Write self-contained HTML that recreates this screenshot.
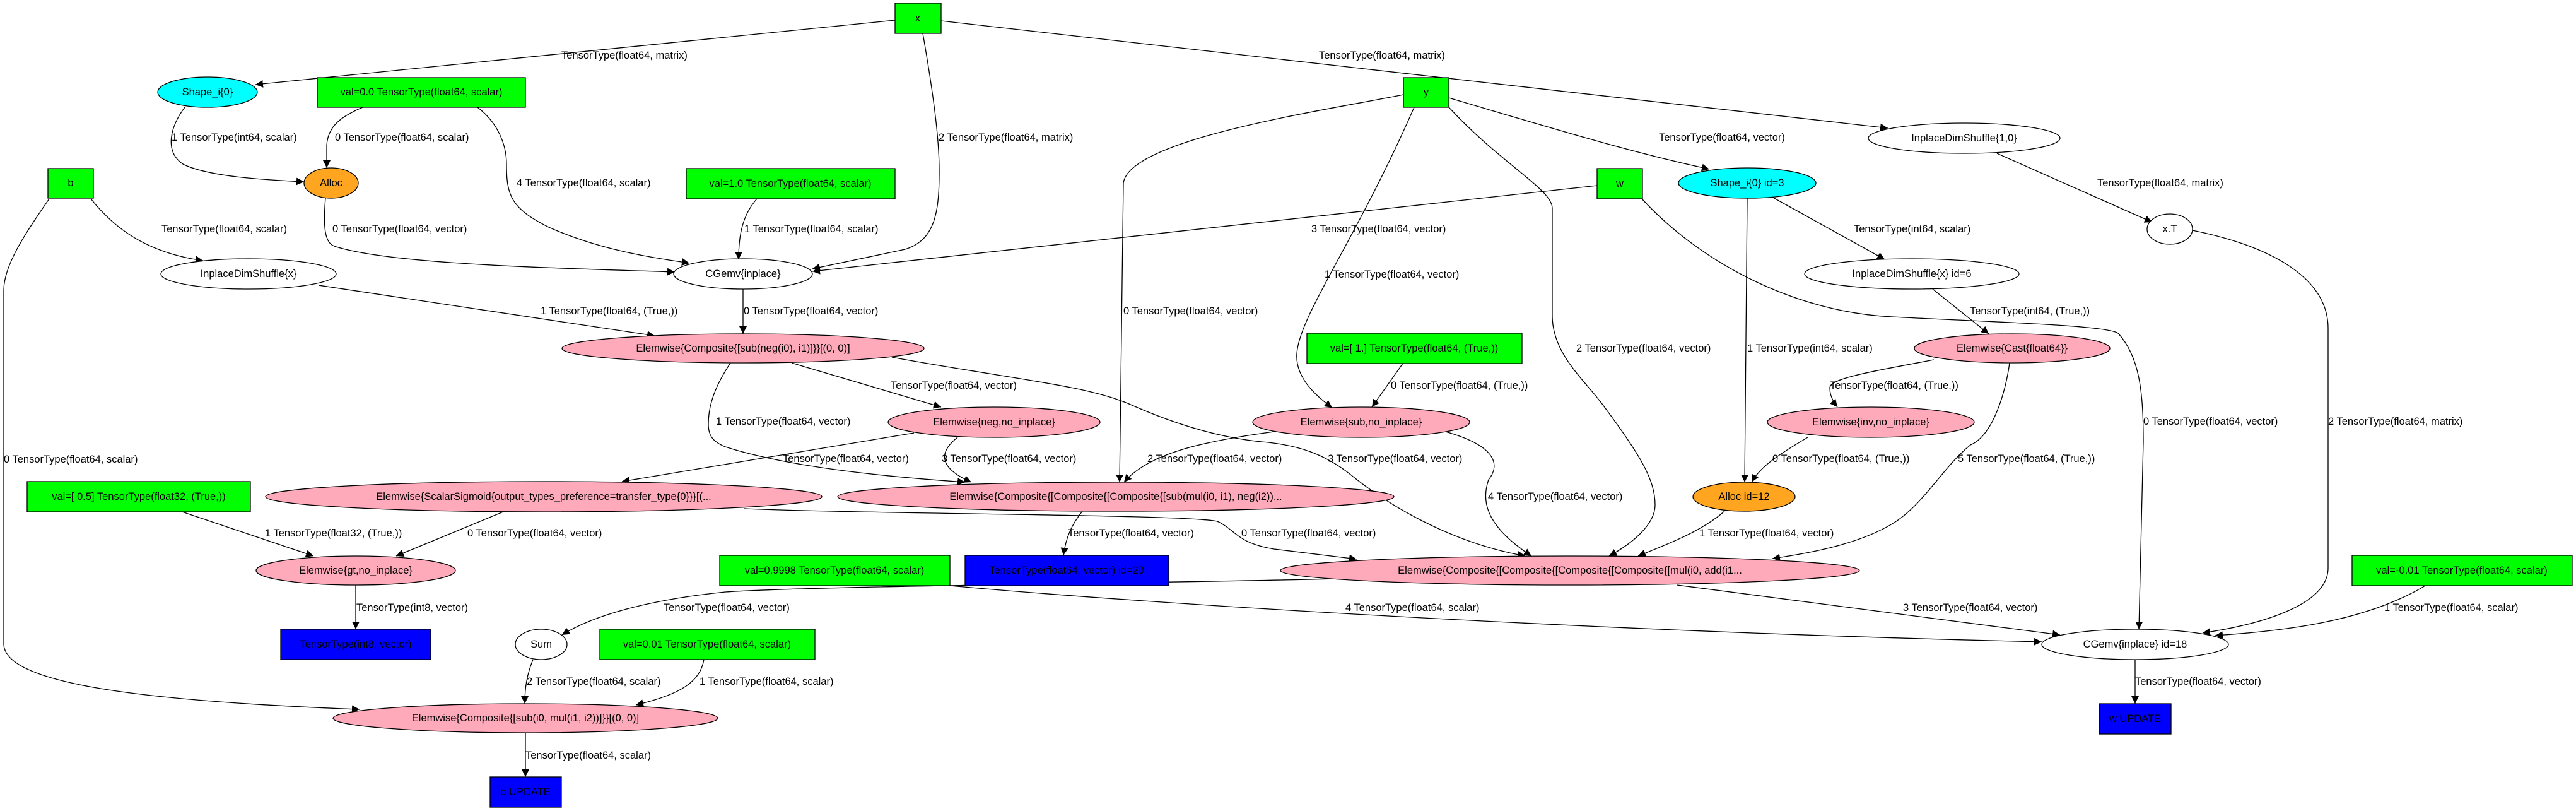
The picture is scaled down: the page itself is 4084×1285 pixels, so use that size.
<!DOCTYPE html>
<html><head><meta charset="utf-8"><style>
html,body{margin:0;padding:0;background:#fff;}
svg{display:block;}
text{font-family:"Liberation Sans",sans-serif;font-size:16.5px;fill:#000;}
.e{fill:none;stroke:#000;stroke-width:1.3;}
.n{stroke:#000;stroke-width:1.3;}
</style></head><body>
<svg width="4084" height="1285" viewBox="0 0 4084 1285" xmlns="http://www.w3.org/2000/svg">
<defs><marker id="a" viewBox="0 0 10 10" refX="10" refY="5" markerWidth="12" markerHeight="12" markerUnits="userSpaceOnUse" orient="auto"><path d="M0,0 L10,5 L0,10 z" fill="#000"/></marker></defs>

<g class="e" marker-end="url(#a)">
<path d="M1419,32 L405,134"/>
<path d="M1463,53 C1480,150 1489,220 1489,270 C1489,330 1485,380 1435,395 L1288,426"/>
<path d="M1492,33 L2993,203"/>
<path d="M293,170 C270,200 260,240 290,260 C330,280 420,285 482,288"/>
<path d="M575,170 C540,185 520,200 518,230 L518,266"/>
<path d="M757,170 C790,195 803,230 803,260 C803,310 810,330 870,360 C960,400 1050,410 1093,417"/>
<path d="M516,314 C512,360 515,385 530,390 C620,420 900,425 1070,431"/>
<path d="M1200,315 C1178,340 1171,370 1171,411"/>
<path d="M2532,294 L1288,430"/>
<path d="M144,315 C180,360 230,400 322,413"/>
<path d="M78,315 C40,370 6,420 6,460 L6,1020 C6,1080 200,1110 570,1124"/>
<path d="M505,452 L1038,532"/>
<path d="M1178,458 L1178,529"/>
<path d="M2242,170 C2150,380 2060,500 2056,560 C2053,600 2090,630 2112,646"/>
<path d="M2225,150 C2100,175 1790,220 1781,290 L1775,764"/>
<path d="M2297,170 C2380,260 2461,300 2461,330 L2461,500 C2461,560 2510,600 2540,640 C2600,720 2624,760 2624,800 C2624,830 2590,860 2551,881"/>
<path d="M2297,155 C2450,200 2580,240 2710,268"/>
<path d="M2770,314 L2766,764"/>
<path d="M2811,313 L2988,411"/>
<path d="M3064,458 L3153,529"/>
<path d="M2603,315 C2700,420 2850,495 3000,502 C3150,510 3340,515 3358,528 C3392,565 3398,620 3398,700 L3391,997"/>
<path d="M3166,243 L3412,352"/>
<path d="M3476,365 C3600,390 3691,440 3691,520 L3691,900 C3691,960 3580,990 3492,1003"/>
<path d="M1255,575 L1492,645"/>
<path d="M1158,575 C1135,610 1123,640 1123,672 C1123,690 1130,700 1150,708 C1250,740 1400,755 1530,764"/>
<path d="M1414,566 C1600,600 1720,610 1790,640 C1880,680 1950,695 2000,700 C2060,705 2100,720 2140,751 C2200,800 2300,860 2418,881"/>
<path d="M1449,686 L986,763"/>
<path d="M1518,693 C1490,715 1485,740 1540,764"/>
<path d="M2020,684 C1900,700 1820,720 1782,764"/>
<path d="M2288,683 C2370,705 2380,735 2360,760 C2350,790 2350,830 2428,881"/>
<path d="M2224,576 L2175,645"/>
<path d="M3066,570 C2960,590 2900,600 2901,615 C2901,625 2905,635 2913,645"/>
<path d="M3186,575 C3180,620 3160,690 3124,705 C3080,740 3050,800 3000,830 C2950,860 2880,875 2810,885"/>
<path d="M2866,693 C2820,720 2790,740 2777,764"/>
<path d="M2734,810 C2700,840 2650,860 2597,881"/>
<path d="M1716,810 C1700,830 1690,850 1686,880"/>
<path d="M1180,806 C1400,815 1880,815 1930,826 C1960,840 1960,860 2020,870 L2151,886"/>
<path d="M800,810 L628,881"/>
<path d="M289,811 L497,881"/>
<path d="M564,927 L564,997"/>
<path d="M2120,917 C1800,925 1300,928 1150,938 C1030,950 940,975 891,1006"/>
<path d="M2659,927 L3266,1006"/>
<path d="M1506,928 C1800,955 2500,1000 3237,1017"/>
<path d="M3845,928 C3750,985 3620,1000 3512,1007"/>
<path d="M3385,1045 L3385,1115"/>
<path d="M845,1045 C835,1070 832,1090 832,1115"/>
<path d="M1116,1045 C1110,1080 1080,1100 1008,1117"/>
<path d="M833,1162 L833,1231"/>
</g>

<g class="n">
<rect x="1419" y="5" width="73" height="48" fill="#00ff00"/>
<ellipse cx="329" cy="146" rx="79" ry="24" fill="#00ffff"/>
<rect x="503" y="123" width="330" height="47" fill="#00ff00"/>
<ellipse cx="525" cy="290" rx="43" ry="24" fill="#ffa520"/>
<rect x="76" y="267" width="72" height="47" fill="#00ff00"/>
<ellipse cx="394" cy="434" rx="139" ry="24" fill="#fff"/>
<ellipse cx="1178" cy="552" rx="287" ry="23" fill="#ffaabb"/>
<rect x="1088" y="267" width="331" height="48" fill="#00ff00"/>
<ellipse cx="1178" cy="434" rx="110" ry="24" fill="#fff"/>
<rect x="2225" y="123" width="72" height="47" fill="#00ff00"/>
<rect x="2532" y="267" width="72" height="48" fill="#00ff00"/>
<ellipse cx="2770" cy="290" rx="109" ry="24" fill="#00ffff"/>
<ellipse cx="3114" cy="219" rx="152" ry="24" fill="#fff"/>
<ellipse cx="3031" cy="434" rx="170" ry="24" fill="#fff"/>
<rect x="2072" y="528" width="341" height="48" fill="#00ff00"/>
<ellipse cx="3440" cy="363" rx="36" ry="24" fill="#fff"/>
<ellipse cx="3190" cy="552" rx="155" ry="23" fill="#ffaabb"/>
<rect x="43" y="763" width="354" height="48" fill="#00ff00"/>
<ellipse cx="862" cy="787" rx="441" ry="24" fill="#ffaabb"/>
<ellipse cx="564" cy="904" rx="158" ry="23" fill="#ffaabb"/>
<rect x="445" y="997" width="238" height="48" fill="#0000ff"/>
<ellipse cx="858" cy="1021" rx="41" ry="24" fill="#fff"/>
<rect x="951" y="997" width="341" height="48" fill="#00ff00"/>
<ellipse cx="833" cy="1138" rx="305" ry="23" fill="#ffaabb"/>
<rect x="777" y="1231" width="113" height="48" fill="#0000ff"/>
<ellipse cx="1576" cy="669" rx="168" ry="24" fill="#ffaabb"/>
<ellipse cx="1769" cy="787" rx="441" ry="23" fill="#ffaabb"/>
<rect x="1141" y="880" width="365" height="48" fill="#00ff00"/>
<rect x="1530" y="880" width="323" height="48" fill="#0000ff"/>
<ellipse cx="2489" cy="904" rx="459" ry="23" fill="#ffaabb"/>
<ellipse cx="2158" cy="669" rx="172" ry="24" fill="#ffaabb"/>
<ellipse cx="2966" cy="669" rx="164" ry="24" fill="#ffaabb"/>
<ellipse cx="2765" cy="787" rx="81" ry="23" fill="#ffa520"/>
<rect x="3729" y="880" width="349" height="48" fill="#00ff00"/>
<ellipse cx="3385" cy="1021" rx="148" ry="24" fill="#fff"/>
<rect x="3328" y="1115" width="114" height="48" fill="#0000ff"/>
</g>

<g text-anchor="middle" dominant-baseline="central">
<text x="1455" y="29">x</text>
<text x="329" y="146">Shape_i{0}</text>
<text x="668" y="146">val=0.0 TensorType(float64, scalar)</text>
<text x="525" y="290">Alloc</text>
<text x="112" y="290">b</text>
<text x="394" y="434">InplaceDimShuffle{x}</text>
<text x="1178" y="552">Elemwise{Composite{[sub(neg(i0), i1)]}}[(0, 0)]</text>
<text x="1253" y="291">val=1.0 TensorType(float64, scalar)</text>
<text x="1178" y="434">CGemv{inplace}</text>
<text x="2261" y="146">y</text>
<text x="2568" y="291">w</text>
<text x="2770" y="290">Shape_i{0} id=3</text>
<text x="3114" y="219">InplaceDimShuffle{1,0}</text>
<text x="3031" y="434">InplaceDimShuffle{x} id=6</text>
<text x="2242" y="552">val=[ 1.] TensorType(float64, (True,))</text>
<text x="3440" y="363">x.T</text>
<text x="3190" y="552">Elemwise{Cast{float64}}</text>
<text x="220" y="787">val=[ 0.5] TensorType(float32, (True,))</text>
<text x="862" y="787">Elemwise{ScalarSigmoid{output_types_preference=transfer_type{0}}}[(...</text>
<text x="564" y="904">Elemwise{gt,no_inplace}</text>
<text x="564" y="1021">TensorType(int8, vector)</text>
<text x="858" y="1021">Sum</text>
<text x="1121" y="1021">val=0.01 TensorType(float64, scalar)</text>
<text x="833" y="1138">Elemwise{Composite{[sub(i0, mul(i1, i2))]}}[(0, 0)]</text>
<text x="833" y="1255">b UPDATE</text>
<text x="1576" y="669">Elemwise{neg,no_inplace}</text>
<text x="1769" y="787">Elemwise{Composite{[Composite{[Composite{[sub(mul(i0, i1), neg(i2))...</text>
<text x="1323" y="904">val=0.9998 TensorType(float64, scalar)</text>
<text x="1691" y="904">TensorType(float64, vector) id=20</text>
<text x="2489" y="904">Elemwise{Composite{[Composite{[Composite{[Composite{[mul(i0, add(i1...</text>
<text x="2158" y="669">Elemwise{sub,no_inplace}</text>
<text x="2966" y="669">Elemwise{inv,no_inplace}</text>
<text x="2765" y="787">Alloc id=12</text>
<text x="3903" y="904">val=-0.01 TensorType(float64, scalar)</text>
<text x="3385" y="1021">CGemv{inplace} id=18</text>
<text x="3385" y="1139">w UPDATE</text>
</g>

<g dominant-baseline="central">
<text x="890" y="88">TensorType(float64, matrix)</text>
<text x="2091" y="88">TensorType(float64, matrix)</text>
<text x="272" y="218">1 TensorType(int64, scalar)</text>
<text x="531" y="218">0 TensorType(float64, scalar)</text>
<text x="1488" y="218">2 TensorType(float64, matrix)</text>
<text x="2630" y="218">TensorType(float64, vector)</text>
<text x="819" y="290">4 TensorType(float64, scalar)</text>
<text x="3325" y="290">TensorType(float64, matrix)</text>
<text x="256" y="363">TensorType(float64, scalar)</text>
<text x="527" y="363">0 TensorType(float64, vector)</text>
<text x="1180" y="363">1 TensorType(float64, scalar)</text>
<text x="2079" y="363">3 TensorType(float64, vector)</text>
<text x="2939" y="363">TensorType(int64, scalar)</text>
<text x="2100" y="435">1 TensorType(float64, vector)</text>
<text x="857" y="493">1 TensorType(float64, (True,))</text>
<text x="1179" y="493">0 TensorType(float64, vector)</text>
<text x="1781" y="493">0 TensorType(float64, vector)</text>
<text x="3123" y="493">TensorType(int64, (True,))</text>
<text x="2499" y="552">2 TensorType(float64, vector)</text>
<text x="2770" y="552">1 TensorType(int64, scalar)</text>
<text x="1412" y="611">TensorType(float64, vector)</text>
<text x="2205" y="611">0 TensorType(float64, (True,))</text>
<text x="2901" y="611">TensorType(float64, (True,))</text>
<text x="1135" y="668">1 TensorType(float64, vector)</text>
<text x="3398" y="668">0 TensorType(float64, vector)</text>
<text x="3691" y="668">2 TensorType(float64, matrix)</text>
<text x="6" y="728">0 TensorType(float64, scalar)</text>
<text x="1241" y="727">TensorType(float64, vector)</text>
<text x="1493" y="727">3 TensorType(float64, vector)</text>
<text x="1819" y="727">2 TensorType(float64, vector)</text>
<text x="2105" y="727">3 TensorType(float64, vector)</text>
<text x="2810" y="727">0 TensorType(float64, (True,))</text>
<text x="3104" y="727">5 TensorType(float64, (True,))</text>
<text x="2359" y="787">4 TensorType(float64, vector)</text>
<text x="420" y="845">1 TensorType(float32, (True,))</text>
<text x="741" y="845">0 TensorType(float64, vector)</text>
<text x="1693" y="845">TensorType(float64, vector)</text>
<text x="1968" y="845">0 TensorType(float64, vector)</text>
<text x="2694" y="845">1 TensorType(float64, vector)</text>
<text x="565" y="963">TensorType(int8, vector)</text>
<text x="1052" y="963">TensorType(float64, vector)</text>
<text x="2133" y="963">4 TensorType(float64, scalar)</text>
<text x="3017" y="963">3 TensorType(float64, vector)</text>
<text x="3780" y="963">1 TensorType(float64, scalar)</text>
<text x="835" y="1080">2 TensorType(float64, scalar)</text>
<text x="1109" y="1080">1 TensorType(float64, scalar)</text>
<text x="3385" y="1080">TensorType(float64, vector)</text>
<text x="833" y="1197">TensorType(float64, scalar)</text>
</g>
</svg>
</body></html>
